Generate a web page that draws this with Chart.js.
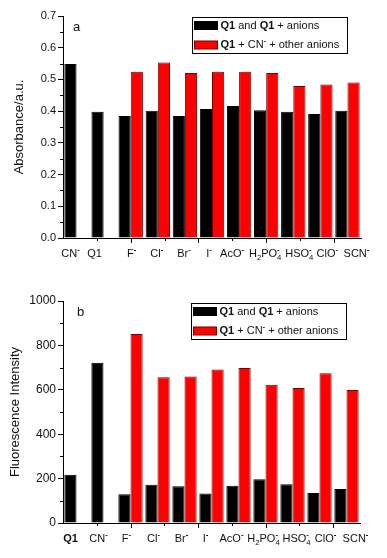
<!DOCTYPE html>
<html>
<head>
<meta charset="utf-8">
<script src="https://cdn.jsdelivr.net/npm/chart.js@4.4.1/dist/chart.umd.min.js"></script>
<style>
  html, body { margin: 0; padding: 0; background: #fff; }
  .wrap { position: absolute; left: 0; width: 387px; height: 279px; }
</style>
</head>
<body>
<div class="wrap" style="top:0"><canvas id="absChart"></canvas></div>
<div class="wrap" style="top:279px"><canvas id="fluChart"></canvas></div>
<script>
// markup: *bold*, _x subscript, ^x superscript
const absLabels = ['CN^-', 'Q1', 'F^-', 'Cl^-', 'Br^-', 'I^-', 'AcO^-', 'H_2PO_4^-', 'HSO_4^-', 'ClO^-', 'SCN^-'];
const absBlack = [0.549, 0.398, 0.385, 0.401, 0.385, 0.407, 0.416, 0.403, 0.398, 0.391, 0.401];
const absRed = [null, null, 0.524, 0.553, 0.520, 0.524, 0.524, 0.520, 0.479, 0.484, 0.490];

const fluLabels = ['*Q1*', 'CN^-', 'F^-', 'Cl^-', 'Br^-', 'I^-', 'AcO^-', 'H_2PO_4^-', 'HSO_4^-', 'ClO^-', 'SCN^-'];
const fluBlack = [217, 722, 130, 172, 166, 133, 168, 197, 174, 135, 153];
const fluRed = [null, null, 851, 657, 660, 692, 698, 623, 608, 675, 599];

const seriesNames = ['*Q1* and *Q1* + anions', '*Q1* + CN^- + other anions'];

// label nudges (px) from the category centre, as laid out in the original
const absShift = [-6, -9, 1, -1, -1, -3, -7, -1, 6, 7, 9];
const fluShift = [-6, -5, -4, -4, -3, -6, -7, -2, 4, 6, 9];

const FONT = '"Liberation Sans", Arial, sans-serif';
const RED = '#ff0000';
const RED_EDGE = '#7a0000';

function parseRich(s) {
  const out = [];
  let bold = false;
  for (let i = 0; i < s.length; i++) {
    const c = s[i];
    if (c === '*') { bold = !bold; continue; }
    if (c === '_' || c === '^') {
      out.push({ t: s[i + 1], bold, kind: c === '_' ? 'sub' : 'sup' });
      i++;
      continue;
    }
    const last = out[out.length - 1];
    if (last && last.kind === 'base' && last.bold === bold) last.t += c;
    else out.push({ t: c, bold, kind: 'base' });
  }
  return out;
}

function drawRich(ctx, markup, x, y, size, align) {
  const parts = parseRich(markup);
  const small = size * 0.7;
  const pieces = [];
  let w = 0;
  for (let i = 0; i < parts.length; i++) {
    const p = parts[i];
    if (p.kind === 'base') {
      const font = (p.bold ? 'bold ' : '') + size + 'px ' + FONT;
      ctx.font = font;
      pieces.push({ t: p.t, font, x: w, dy: 0 });
      w += ctx.measureText(p.t).width;
    } else {
      // sub and sup next to each other are stacked
      let gw = 0, j = i;
      while (j < parts.length && j < i + 2 && parts[j].kind !== 'base') {
        const q = parts[j];
        const font = (q.t === '-' ? 'bold ' : '') + small + 'px ' + FONT;
        ctx.font = font;
        pieces.push({ t: q.t, font, x: w, dy: q.kind === 'sup' ? -size * 0.38 : size * 0.32 });
        gw = Math.max(gw, ctx.measureText(q.t).width);
        j++;
      }
      w += gw;
      i = j - 1;
    }
  }
  const x0 = align === 'left' ? x : x - w / 2;
  ctx.textAlign = 'left';
  ctx.textBaseline = 'middle';
  pieces.forEach(pc => { ctx.font = pc.font; ctx.fillText(pc.t, x0 + pc.x, y + pc.dy); });
  return w;
}

const panelPlugin = {
  id: 'panel',
  afterDraw(chart, args, opts) {
    const { ctx, chartArea: a, scales: { x, y } } = chart;
    ctx.save();
    ctx.strokeStyle = '#000';
    ctx.lineWidth = 1;

    // minor y ticks
    const tv = y.ticks.map(t => t.value);
    for (let k = 0; k < tv.length - 1; k++) {
      const py = Math.round(y.getPixelForValue((tv[k] + tv[k + 1]) / 2)) + 0.5;
      ctx.beginPath(); ctx.moveTo(a.left - 3, py); ctx.lineTo(a.left, py); ctx.stroke();
    }

    // x ticks, spaced like the original numeric axis
    const step = x.getPixelForValue(1) - x.getPixelForValue(0);
    for (let v = 0.75; v < opts.labels.length - 0.5; v += 1.25) {
      const px = Math.round(x.getPixelForValue(0) + v * step) + 0.5;
      const major = Math.abs(((v - 2) / 2.5) - Math.round((v - 2) / 2.5)) < 0.01;
      ctx.beginPath(); ctx.moveTo(px, a.bottom); ctx.lineTo(px, a.bottom + (major ? 5 : 3)); ctx.stroke();
    }

    // category labels
    ctx.fillStyle = '#111';
    opts.labels.forEach((lab, i) => {
      drawRich(ctx, lab, x.getPixelForValue(i) + opts.shift[i], a.bottom + 16, 11, 'center');
    });

    // panel letter
    ctx.font = '13px ' + FONT;
    ctx.textAlign = 'left';
    ctx.textBaseline = 'middle';
    ctx.fillText(opts.letter, a.left + opts.letterDx, a.top + 11);

    // legend
    const bw = 155, bh = 36;
    const bx = Math.round(a.right - 14 - bw) + 0.5;
    const by = Math.round(a.top + opts.legendDy) + 0.5;
    ctx.fillStyle = '#fff';
    ctx.fillRect(bx, by, bw, bh);
    ctx.strokeStyle = '#000';
    ctx.strokeRect(bx, by, bw, bh);
    const fills = ['#000', RED], edges = ['#000', RED_EDGE];
    seriesNames.forEach((name, r) => {
      const cy = by + 8 + r * 19.5;
      ctx.fillStyle = fills[r];
      ctx.fillRect(bx + 2, cy - 4, 23, 8);
      ctx.strokeStyle = edges[r];
      ctx.strokeRect(bx + 2, cy - 4, 23, 8);
      ctx.fillStyle = '#111';
      drawRich(ctx, name, bx + 28, cy, 11, 'left');
    });
    ctx.restore();
  }
};

function makeChart(id, labels, black, red, yOpts, extra) {
  return new Chart(document.getElementById(id), {
    type: 'bar',
    data: {
      labels: labels,
      datasets: [
        { label: 'black', data: black, backgroundColor: '#000', borderColor: '#000', borderWidth: 1 },
        { label: 'red', data: red, backgroundColor: RED, borderColor: RED_EDGE, borderWidth: 1 }
      ]
    },
    options: {
      responsive: true,
      maintainAspectRatio: false,
      animation: false,
      layout: { padding: { top: extra.top, right: extra.right, left: extra.left, bottom: 0 } },
      datasets: { bar: { categoryPercentage: 0.9, barPercentage: 1.0 } },
      plugins: {
        legend: { display: false },
        tooltip: { enabled: false },
        panel: { labels: labels, shift: extra.shift, letter: extra.letter, letterDx: extra.letterDx, legendDy: extra.legendDy }
      },
      scales: {
        x: {
          grid: { drawOnChartArea: false, drawTicks: false },
          border: { color: '#000', width: 1 },
          ticks: { display: false },
          afterFit: s => { s.height = extra.xHeight; }
        },
        y: {
          min: yOpts.min, max: yOpts.max,
          grid: { drawOnChartArea: false, tickLength: 5, tickColor: '#000' },
          border: { color: '#000', width: 1 },
          ticks: {
            stepSize: yOpts.step, padding: 2, color: '#111',
            font: { family: FONT, size: yOpts.fontSize },
            callback: v => yOpts.fmt(v)
          },
          title: { display: true, text: yOpts.title, color: '#111', font: { family: FONT, size: 13 } },
          afterFit: s => { s.width = 63 - extra.left; }
        }
      }
    },
    plugins: [panelPlugin]
  });
}

makeChart('absChart', absLabels, absBlack, absRed,
  { min: 0, max: 0.7, step: 0.1, fontSize: 11, title: 'Absorbance/a.u.', fmt: v => v.toFixed(1) },
  { top: 16, right: 26, left: 8, xHeight: 41, letter: 'a', letterDx: 10, legendDy: 1, shift: absShift });

makeChart('fluChart', fluLabels, fluBlack, fluRed,
  { min: 0, max: 1000, step: 200, fontSize: 12, title: 'Fluorescence Intensity', fmt: v => String(v) },
  { top: 22, right: 27, left: 4, xHeight: 35, letter: 'b', letterDx: 14, legendDy: 2, shift: fluShift });
</script>
</body>
</html>
